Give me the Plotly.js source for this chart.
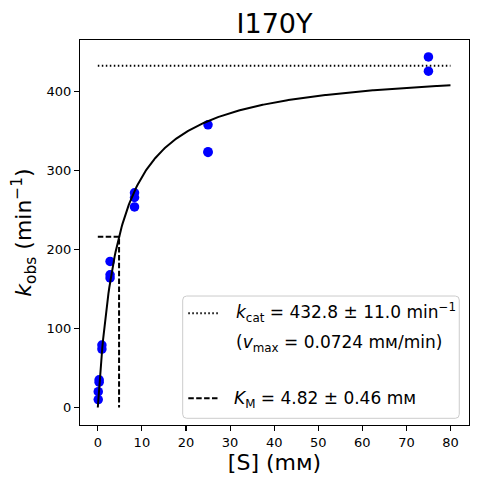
<!DOCTYPE html>
<html>
<head>
<meta charset="utf-8">
<script src="https://cdn.plot.ly/plotly-3.0.1.min.js"></script>
<style>html,body{margin:0;padding:0;background:#fff;}#chart{width:477px;height:484px;}</style>
</head>
<body>
<div id="chart"></div>
<script>
// Measured data: substrate concentration [S] (mM) and observed rate k_obs (min^-1)
var substrate = [0.1, 0.1, 0.3, 0.3, 0.93, 0.93, 2.78, 2.78, 2.78, 8.33, 8.33, 8.33, 25, 25, 25, 75, 75];
var kobs = [10, 20, 32, 35, 74, 79, 164, 168, 185, 254, 266, 272, 323, 324, 358, 426, 444];

// Fitted Michaelis-Menten parameters
var kcat = 432.8;
var kcatErr = 11.0;
var KM = 4.82;
var KMErr = 0.46;
var vmax = 0.0724;
var fitRange = [0, 80];

var xTicks = [0, 10, 20, 30, 40, 50, 60, 70, 80];
var yTicks = [0, 100, 200, 300, 400];

// fitted curve sampled over the fit range
var fitX = [], fitY = [];
for (var i = 0; i <= 400; i++) {
  var s = fitRange[0] + (fitRange[1] - fitRange[0]) * i / 400;
  fitX.push(s);
  fitY.push(kcat * s / (KM + s));
}

var FONT = '"DejaVu Sans", sans-serif';

var traces = [
  {x: substrate, y: kobs, mode: 'markers', type: 'scatter',
   marker: {color: '#0000ff', size: 9.5}, showlegend: false, hoverinfo: 'none'},
  {x: fitX, y: fitY, mode: 'lines', type: 'scatter',
   line: {color: '#000000', width: 2}, showlegend: false, hoverinfo: 'none'},
  {x: fitRange, y: [kcat, kcat], mode: 'lines', type: 'scatter',
   line: {color: '#000000', width: 2, dash: '1.5px,2.5px'}, showlegend: false, hoverinfo: 'none'},
  {x: [0, KM, KM], y: [kcat / 2, kcat / 2, 0], mode: 'lines', type: 'scatter',
   line: {color: '#000000', width: 2, dash: '5.5px,2.4px'}, showlegend: false, hoverinfo: 'none'}
];

// legend box geometry (paper coords)
var bx0 = 0.264, bx1 = 0.975, by0 = 0.0174, by1 = 0.335;
var rx = 4 / 389, ry = 4 / 385;
var boxPath = 'M' + (bx0 + rx) + ',' + by0 +
  ' L' + (bx1 - rx) + ',' + by0 +
  ' Q' + bx1 + ',' + by0 + ' ' + bx1 + ',' + (by0 + ry) +
  ' L' + bx1 + ',' + (by1 - ry) +
  ' Q' + bx1 + ',' + by1 + ' ' + (bx1 - rx) + ',' + by1 +
  ' L' + (bx0 + rx) + ',' + by1 +
  ' Q' + bx0 + ',' + by1 + ' ' + bx0 + ',' + (by1 - ry) +
  ' L' + bx0 + ',' + (by0 + ry) +
  ' Q' + bx0 + ',' + by0 + ' ' + (bx0 + rx) + ',' + by0 + ' Z';

var lgFont = {family: FONT, size: 17, color: '#000'};

var layout = {
  width: 477, height: 484,
  margin: {l: 80, r: 8, t: 40, b: 59, pad: 0},
  paper_bgcolor: '#ffffff', plot_bgcolor: '#ffffff',
  font: {family: FONT, color: '#000'},
  title: {text: 'I170Y', font: {family: FONT, size: 27, color: '#000'},
          x: 0.5, xref: 'paper', xanchor: 'center', y: 0.952, yref: 'container', yanchor: 'middle'},
  xaxis: {
    range: [-4.04, 84.2], tickvals: xTicks, ticktext: xTicks.map(String),
    ticks: 'outside', ticklen: 5, tickwidth: 1.1, tickcolor: '#000',
    showline: true, linecolor: '#000', linewidth: 1.1, mirror: true,
    showgrid: false, zeroline: false,
    tickfont: {family: FONT, size: 13, color: '#000'},
    title: {text: '[S] (mм)', font: {family: FONT, size: 22, color: '#000'}, standoff: 4}
  },
  yaxis: {
    range: [-22.2, 465.5], tickvals: yTicks, ticktext: yTicks.map(String),
    ticks: 'outside', ticklen: 5, tickwidth: 1.1, tickcolor: '#000',
    showline: true, linecolor: '#000', linewidth: 1.1, mirror: true,
    showgrid: false, zeroline: false,
    tickfont: {family: FONT, size: 13, color: '#000'},
    title: {text: '<i>k</i><sub>obs</sub> (min<sup>−1</sup>)', font: {family: FONT, size: 22, color: '#000'}, standoff: 8}
  },
  shapes: [
    {type: 'path', xref: 'paper', yref: 'paper', path: boxPath,
     fillcolor: 'rgba(255,255,255,0.8)', line: {color: '#cccccc', width: 1}},
    {type: 'line', xref: 'paper', yref: 'paper', x0: 0.2784, x1: 0.3581, y0: 0.2901, y1: 0.2901,
     line: {color: '#000', width: 2, dash: '1.5px,2.5px'}},
    {type: 'line', xref: 'paper', yref: 'paper', x0: 0.2784, x1: 0.3581, y0: 0.0694, y1: 0.0694,
     line: {color: '#000', width: 2, dash: '5.5px,2.4px'}}
  ],
  annotations: [
    {xref: 'paper', yref: 'paper', x: 0.395, y: 0.2922, xanchor: 'left', yanchor: 'middle', showarrow: false,
     text: '<i>k</i><sub>cat</sub> = ' + kcat.toFixed(1) + ' ± ' + kcatErr.toFixed(1) + ' min<sup>−1</sup>', font: lgFont},
    {xref: 'paper', yref: 'paper', x: 0.395, y: 0.2104, xanchor: 'left', yanchor: 'middle', showarrow: false,
     text: '(<i>v</i><sub>max</sub> = ' + vmax.toFixed(4) + ' mм/min)', font: lgFont},
    {xref: 'paper', yref: 'paper', x: 0.39, y: 0.0675, xanchor: 'left', yanchor: 'middle', showarrow: false,
     text: '<i>K</i><sub>M</sub> = ' + KM.toFixed(2) + ' ± ' + KMErr.toFixed(2) + ' mм', font: lgFont}
  ]
};

Plotly.newPlot('chart', traces, layout, {displayModeBar: false, staticPlot: true});
</script>
</body>
</html>
